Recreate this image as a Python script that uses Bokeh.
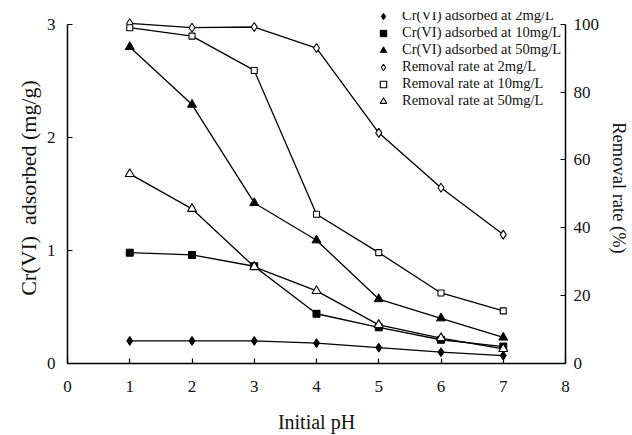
from bokeh.plotting import figure
from bokeh.models import Range1d, LinearAxis, Legend, LegendItem, FixedTicker
from bokeh.embed import file_html
from bokeh.resources import INLINE

# Initial pH values
ph = [1, 2, 3, 4, 5, 6, 7]

# Cr(VI) adsorbed (mg/g) at three initial concentrations
ads_2 = [0.20, 0.20, 0.20, 0.18, 0.14, 0.10, 0.07]
ads_10 = [0.98, 0.96, 0.86, 0.44, 0.32, 0.21, 0.15]
ads_50 = [2.80, 2.29, 1.42, 1.09, 0.57, 0.40, 0.23]

# Removal rate (%) at three initial concentrations
rem_2 = [100.3, 99.0, 99.2, 93.0, 68.0, 51.8, 38.0]
rem_10 = [99.0, 96.5, 86.4, 44.0, 32.7, 20.8, 15.5]
rem_50 = [55.9, 45.6, 28.5, 21.4, 11.4, 7.5, 4.3]

labels = [
    "Cr(VI) adsorbed at 2mg/L",
    "Cr(VI) adsorbed at 10mg/L",
    "Cr(VI) adsorbed at 50mg/L",
    "Removal rate at 2mg/L",
    "Removal rate at 10mg/L",
    "Removal rate at 50mg/L",
]

x_ticks = [0, 1, 2, 3, 4, 5, 6, 7, 8]
left_ticks = [0, 1, 2, 3]
right_ticks = [0, 20, 40, 60, 80, 100]

FONT = "Liberation Serif"

# The frame reaches a little above the top tick so the legend has room;
# the axis lines themselves stop at the top tick via `bounds`.
AX_H = 345.0
FRAME_H = 357.0
left_top = 3 * FRAME_H / AX_H
right_top = 100 * FRAME_H / AX_H

p = figure(
    width=632, height=435,
    x_range=Range1d(0, 8), y_range=Range1d(0, left_top),
    output_backend="svg", toolbar_location=None,
    min_border_left=67, min_border_right=61,
    min_border_top=12, min_border_bottom=66,
)
p.extra_y_ranges = {"rate": Range1d(0, right_top)}
p.outline_line_color = None
p.xgrid.visible = False
p.ygrid.visible = False
p.background_fill_color = "white"
p.border_fill_color = "white"

right_axis = LinearAxis(y_range_name="rate")
p.add_layout(right_axis, "right")

p.xaxis.ticker = FixedTicker(ticks=x_ticks)
p.yaxis[0].ticker = FixedTicker(ticks=left_ticks)
right_axis.ticker = FixedTicker(ticks=right_ticks)
p.yaxis[0].bounds = (0, 3)
right_axis.bounds = (0, 100)

p.xaxis.axis_label = "Initial pH"
p.yaxis[0].axis_label = "Cr(VI)\u00a0 adsorbed (mg/g)"
right_axis.axis_label = "Removal rate (%)"

for ax in [p.xaxis[0], p.yaxis[0], right_axis]:
    ax.axis_line_color = "black"
    ax.axis_line_width = 1.5
    ax.major_tick_line_color = "black"
    ax.major_tick_line_width = 1.2
    ax.major_tick_in = 5
    ax.major_tick_out = 0
    ax.minor_tick_line_color = None
    ax.major_label_text_font = FONT
    ax.major_label_text_font_size = "17px"
    ax.major_label_text_color = "#111111"
    ax.axis_label_text_font = FONT
    ax.axis_label_text_font_style = "normal"
    ax.axis_label_text_color = "#111111"

p.xaxis.major_label_standoff = 17
p.xaxis.axis_label_text_font_size = "20px"
p.xaxis.axis_label_standoff = 16
p.yaxis[0].major_label_standoff = 12
p.yaxis[0].axis_label_text_font_size = "22px"
p.yaxis[0].axis_label_standoff = 3
right_axis.major_label_standoff = 8
right_axis.axis_label_text_font_size = "18.5px"
right_axis.axis_label_standoff = 7

LW = 1.3

# Adsorbed amounts (left axis, filled markers)
p.line(ph, ads_2, line_color="black", line_width=LW)
r1 = p.scatter(ph, ads_2, marker="diamond", size=9,
               fill_color="black", line_color="black")
p.line(ph, ads_10, line_color="black", line_width=LW)
r2 = p.scatter(ph, ads_10, marker="square", size=7,
               fill_color="black", line_color="black")
p.line(ph, ads_50, line_color="black", line_width=LW)
r3 = p.scatter(ph, ads_50, marker="triangle", size=9,
               fill_color="black", line_color="black")

# Removal rates (right axis, open markers)
p.line(ph, rem_2, line_color="black", line_width=LW, y_range_name="rate")
r4 = p.scatter(ph, rem_2, marker="diamond", size=9,
               fill_color="white", line_color="black", line_width=1.1,
               y_range_name="rate")
p.line(ph, rem_10, line_color="black", line_width=LW, y_range_name="rate")
r5 = p.scatter(ph, rem_10, marker="square", size=6,
               fill_color="white", line_color="black", line_width=1.1,
               y_range_name="rate")
p.line(ph, rem_50, line_color="black", line_width=LW, y_range_name="rate")
r6 = p.scatter(ph, rem_50, marker="triangle", size=9,
               fill_color="white", line_color="black", line_width=1.1,
               y_range_name="rate")

legend = Legend(
    items=[LegendItem(label=l, renderers=[r]) for l, r in
           zip(labels, [r1, r2, r3, r4, r5, r6])],
    location=(308, 254),
    padding=0, margin=0, spacing=0,
    glyph_width=16, glyph_height=16, label_height=16,
    label_standoff=11,
    label_text_font=FONT, label_text_font_size="14.5px",
    label_text_color="#111111",
    border_line_color=None, background_fill_alpha=0,
)
p.add_layout(legend)

open("out.html", "w").write(file_html(p, INLINE))
